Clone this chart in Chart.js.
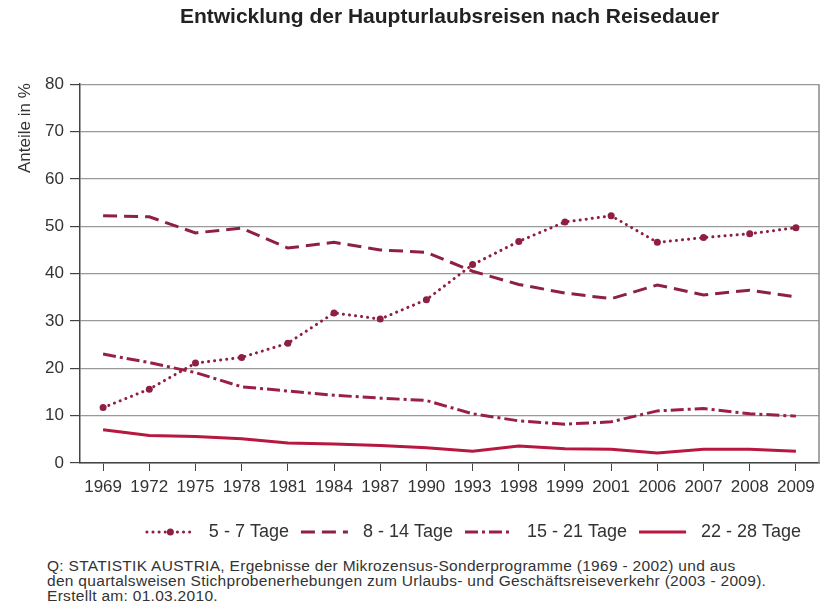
<!DOCTYPE html>
<html lang="de">
<head>
<meta charset="utf-8">
<title>Entwicklung der Haupturlaubsreisen nach Reisedauer</title>
<script src="https://cdn.jsdelivr.net/npm/chart.js@4.4.1/dist/chart.umd.min.js"></script>
<style>
    body { margin: 0; background: #fff; }
    #wrap { position: relative; width: 823px; height: 610px; }
    #chartBox { position: absolute; left: 0; top: 0; width: 823px; height: 550px; }
    #source {
        position: absolute; left: 47px; top: 558px;
        font-family: "Liberation Sans", Arial, sans-serif;
        font-size: 15.5px; line-height: 15px; color: #333;
        letter-spacing: 0.3px;
    }
</style>
</head>
<body>
<div id="wrap">
    <div id="chartBox"><canvas id="reiseChart"></canvas></div>
    <div id="source">
        Q: STATISTIK AUSTRIA, Ergebnisse der Mikrozensus-Sonderprogramme (1969 - 2002) und aus<br>
        den quartalsweisen Stichprobenerhebungen zum Urlaubs- und Geschäftsreiseverkehr (2003 - 2009).<br>
        Erstellt am: 01.03.2010.
    </div>
</div>
<script>
// Jahre (Kategorien)
const years = ['1969', '1972', '1975', '1978', '1981', '1984', '1987', '1990',
               '1993', '1998', '1999', '2001', '2006', '2007', '2008', '2009'];

// Anteile in % je Reisedauer
const tage5bis7   = [11.7, 15.6, 21.1, 22.3, 25.3, 31.7, 30.4, 34.5, 41.9, 46.8, 50.9, 52.2, 46.6, 47.6, 48.4, 49.7];
const tage8bis14  = [52.2, 52.0, 48.6, 49.6, 45.4, 46.6, 45.0, 44.5, 40.5, 37.7, 35.9, 34.7, 37.6, 35.5, 36.5, 35.1];
const tage15bis21 = [23.0, 21.2, 19.1, 16.1, 15.2, 14.3, 13.7, 13.2, 10.4, 8.9, 8.2, 8.7, 11.0, 11.5, 10.4, 9.9];
const tage22bis28 = [7.0, 5.8, 5.6, 5.1, 4.2, 4.0, 3.7, 3.2, 2.5, 3.6, 3.0, 2.9, 2.1, 2.9, 2.9, 2.5];

// Y-Achse
const yMin = 0;
const yMax = 80;
const yStep = 10;

const fontFamily = '"Liberation Sans", Arial, sans-serif';
const textColor = '#333';

// Achsentitel, rechter Rahmen und Legende mit Linienmustern
const extrasPlugin = {
    id: 'extras',
    afterDraw(chart) {
        const ctx = chart.ctx;
        const area = chart.chartArea;
        ctx.save();
        ctx.strokeStyle = '#888';
        ctx.lineWidth = 1.5;
        ctx.beginPath();
        ctx.moveTo(area.right, area.top);
        ctx.lineTo(area.right, area.bottom);
        ctx.stroke();

        ctx.translate(25, area.top - 1);
        ctx.rotate(-Math.PI / 2);
        ctx.font = '17px ' + fontFamily;
        ctx.fillStyle = textColor;
        ctx.textAlign = 'right';
        ctx.textBaseline = 'middle';
        ctx.fillText('Anteile in %', 0, 0);
        ctx.restore();

        // Legende
        const lineLen = 47, textGap = 15, itemGap = 12;
        const legendY = 532, legendCenter = 474;
        ctx.save();
        ctx.font = '18px ' + fontFamily;
        const sets = chart.data.datasets;
        const widths = sets.map(ds => ctx.measureText(ds.label).width);
        let total = 0;
        widths.forEach((w, i) => { total += lineLen + textGap + w + (i < sets.length - 1 ? itemGap : 0); });
        let x = legendCenter - total / 2;
        sets.forEach((ds, i) => {
            ctx.strokeStyle = ds.borderColor;
            ctx.lineWidth = ds.borderWidth;
            ctx.lineCap = ds.borderCapStyle || 'butt';
            ctx.setLineDash(ds.borderDash || []);
            ctx.beginPath();
            ctx.moveTo(x, legendY);
            ctx.lineTo(x + lineLen, legendY);
            ctx.stroke();
            if (ds.pointRadius > 0) {
                ctx.setLineDash([]);
                ctx.fillStyle = ds.backgroundColor;
                ctx.beginPath();
                ctx.arc(x + lineLen / 2, legendY, ds.pointRadius, 0, Math.PI * 2);
                ctx.fill();
            }
            ctx.fillStyle = textColor;
            ctx.textAlign = 'left';
            ctx.textBaseline = 'middle';
            ctx.fillText(ds.label, x + lineLen + textGap, legendY);
            x += lineLen + textGap + widths[i] + itemGap;
        });
        ctx.restore();
    }
};

const ctx = document.getElementById('reiseChart').getContext('2d');
new Chart(ctx, {
    type: 'line',
    data: {
        labels: years,
        datasets: [
            {
                label: '5 - 7 Tage',
                data: tage5bis7,
                borderColor: '#8e1f40',
                backgroundColor: '#8e1f40',
                borderWidth: 3,
                borderDash: [0.1, 6],
                borderCapStyle: 'round',
                pointRadius: 3.5,
                pointBorderWidth: 0,
                pointHoverRadius: 4
            },
            {
                label: '8 - 14 Tage',
                data: tage8bis14,
                borderColor: '#8e2042',
                backgroundColor: '#8e2042',
                borderWidth: 3,
                borderDash: [14, 7],
                pointRadius: 0
            },
            {
                label: '15 - 21 Tage',
                data: tage15bis21,
                borderColor: '#9a1f44',
                backgroundColor: '#9a1f44',
                borderWidth: 3,
                borderDash: [13, 4, 3, 4],
                pointRadius: 0
            },
            {
                label: '22 - 28 Tage',
                data: tage22bis28,
                borderColor: '#b8173f',
                backgroundColor: '#b8173f',
                borderWidth: 3,
                pointRadius: 0
            }
        ]
    },
    options: {
        responsive: true,
        maintainAspectRatio: false,
        animation: false,
        layout: {
            padding: { left: 0, right: 3, top: 0, bottom: 37 }
        },
        plugins: {
            title: {
                display: true,
                text: 'Entwicklung der Haupturlaubsreisen nach Reisedauer',
                fullSize: false,
                color: '#222',
                font: { family: fontFamily, size: 21, weight: 'bold' },
                padding: { top: 5, bottom: 54 }
            },
            legend: { display: false },
            tooltip: { enabled: false }
        },
        scales: {
            x: {
                offset: true,
                afterFit(scale) { scale.height = 50; },
                grid: {
                    drawOnChartArea: false,
                    drawTicks: true,
                    tickLength: 8,
                    color: '#444'
                },
                border: { color: '#444', width: 1.5 },
                ticks: {
                    color: textColor,
                    font: { family: fontFamily, size: 17 },
                    padding: 6,
                    maxRotation: 0,
                    autoSkip: false
                }
            },
            y: {
                min: yMin,
                max: yMax,
                afterFit(scale) { scale.width = 80; },
                grid: {
                    color: '#999',
                    tickColor: '#444',
                    tickLength: 10,
                    lineWidth: 1.2
                },
                border: { color: '#444', width: 1.5 },
                ticks: {
                    stepSize: yStep,
                    color: textColor,
                    font: { family: fontFamily, size: 17 },
                    padding: 6
                }
            }
        }
    },
    plugins: [extrasPlugin]
});
</script>
</body>
</html>
